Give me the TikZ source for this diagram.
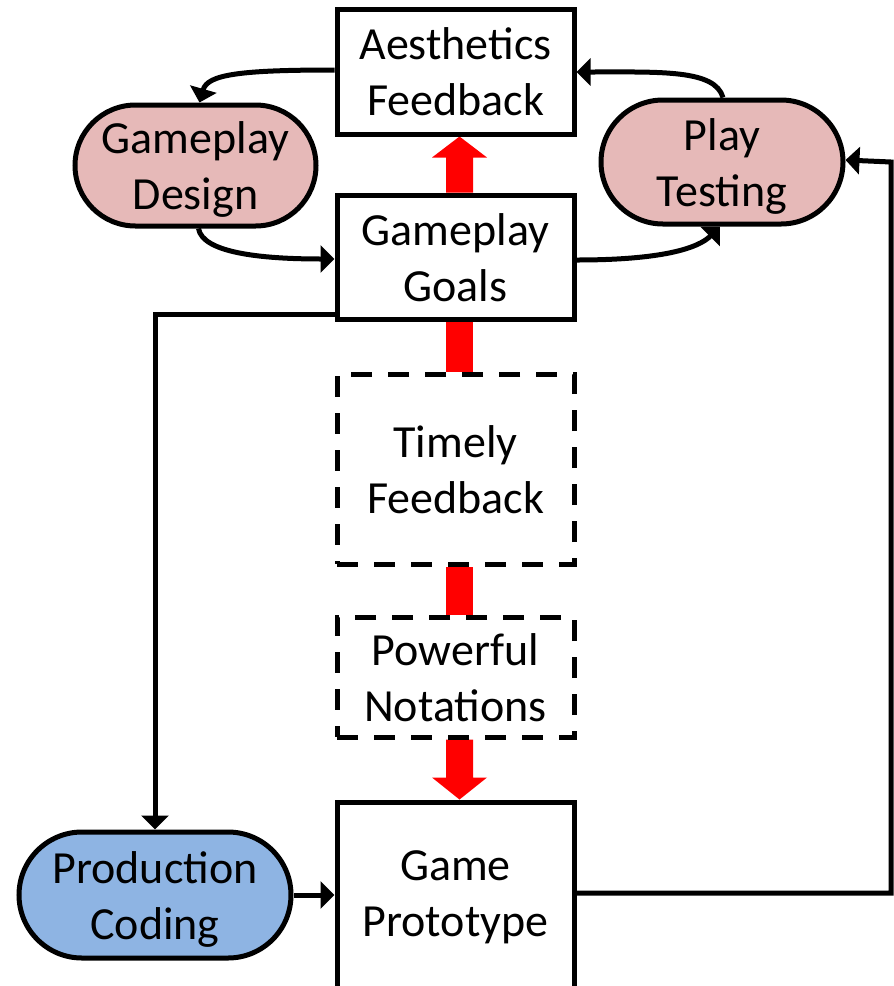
\documentclass[tikz,border=0pt]{standalone}
\usepackage{fontspec}
\setmainfont{Carlito}
\usetikzlibrary{arrows.meta,calc}
\pgfdeclarelayer{back}
\pgfsetlayers{back,main}
\definecolor{pinkfill}{HTML}{E6B9B8}
\definecolor{bluefill}{HTML}{8EB4E3}
% two centred lines with fixed baselines; optional extra depth shifts the text up
\newcommand\twoline[3][0pt]{\rule{0pt}{32pt}\smash{#2}\\\smash{#3}\rule[-#1]{0pt}{#1}}
\begin{document}
\begin{tikzpicture}[x=1pt,y=-1pt,
  every node/.style={font=\fontsize{46}{56}\selectfont, align=center, inner sep=0pt, line width=5pt},
  box/.style={draw, rectangle, minimum width=237pt},
  dbox/.style={box, dash pattern=on 21pt off 16pt},
  pill/.style={draw, rectangle, rounded corners=#1, minimum height={2*#1}},
  conn/.style={line width=5pt, -{Triangle[length=14pt,width=27pt]}},
  bigarrow/.style={fill=red}]
\useasboundingbox (0,0) rectangle (894,986);

% central column
\node[box,  minimum height=125pt] (aes)    at (455.5,71.5) {\twoline{Aesthetics}{Feedback}};
\node[box,  minimum height=124pt] (goals)  at (455.5,257)  {\twoline{Gameplay}{Goals}};
\node[dbox, minimum height=190pt] (timely) at (455.5,469)  {\twoline{Timely}{Feedback}};
\node[dbox, minimum height=120pt] (power)  at (455.5,677)  {\twoline{Powerful}{Notations}};
\node[box,  minimum height=188pt] (proto)  at (455.5,896)  {\twoline[8pt]{Game}{Prototype}};

% activities
\node[pill=60.5pt, fill=pinkfill, minimum width=241pt] (design) at (195.5,165.5) {\twoline{Gameplay}{Design}};
\node[pill=62pt,   fill=pinkfill, minimum width=242pt] (play)   at (722,162)     {\twoline{Play}{Testing}};
\node[pill=63pt,   fill=bluefill, minimum width=272pt] (prod)   at (155,895)     {\twoline{Production}{Coding}};

% thick red arrows behind the boxes
\begin{pgfonlayer}{back}
\fill[bigarrow] ($(goals.north)+(-9.5,0)$) -- ($(goals.north)+(-9.5,-35)$) -- ($(goals.north)+(-23.5,-35)$)
  -- ($(aes.south)+(4,0)$) -- ($(goals.north)+(31.5,-35)$) -- ($(goals.north)+(17.5,-35)$)
  -- ($(goals.north)+(17.5,0)$) -- cycle;
\fill[bigarrow] ($(goals.south)+(-9.5,0)$) rectangle ($(timely.north)+(17.5,0)$);
\fill[bigarrow] ($(timely.south)+(-9.5,0)$) rectangle ($(power.north)+(17.5,0)$);
\fill[bigarrow] ($(power.south)+(-9.5,0)$) -- ($(power.south)+(-9.5,38)$) -- ($(power.south)+(-23.5,38)$)
  -- ($(proto.north)+(4,0)$) -- ($(power.south)+(31.5,38)$) -- ($(power.south)+(17.5,38)$)
  -- ($(power.south)+(17.5,0)$) -- cycle;
\end{pgfonlayer}

% design loop
\draw[conn] ($(aes.west)+(0,-1.5)$) .. controls +(-95,0) and +(8,-28) .. ($(design.north)+(4,0)$);
\draw[conn] ($(design.south)+(3,0)$) .. controls +(4,24) and +(-75,0) .. ($(goals.west)+(0,2)$);
\draw[conn] ($(goals.east)+(0,3)$) .. controls +(85,0) and +(-22,22) .. ($(play.south)+(-2,0)$);
\draw[conn] ($(play.north)+(1,0)$) .. controls +(-8,-28) and +(85,0) .. ($(aes.east)+(0,0.5)$);

% production path
\draw[conn] ($(goals.south west)+(0,-7)$) -| (prod.north);
\draw[conn] (prod.east) -- (prod.east -| proto.west);
\coordinate (rt) at (891,0);
\draw[conn] ($(proto.east)+(0,-3)$) -| (rt |- play.east) -- ($(play.east)+(0,-2)$);
\end{tikzpicture}
\end{document}
